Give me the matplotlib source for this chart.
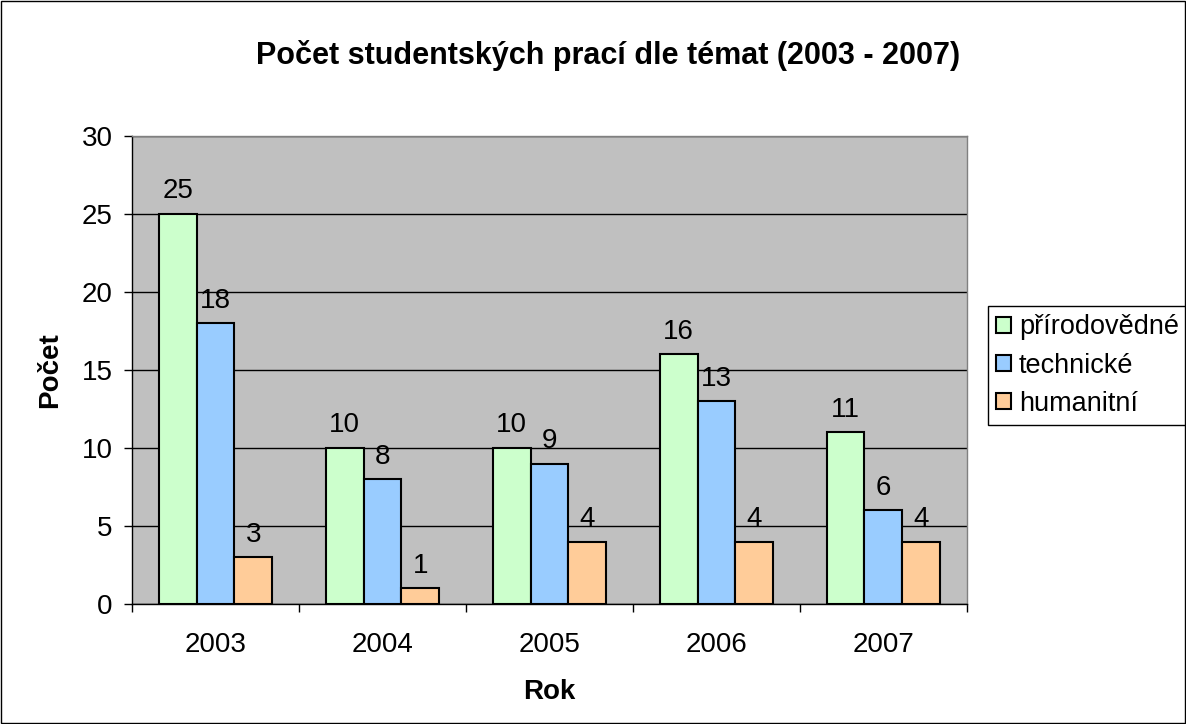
import matplotlib.pyplot as plt
import numpy as np
from matplotlib.patches import Rectangle

plt.rcParams['font.family'] = ['Liberation Sans', 'DejaVu Sans']

years = ['2003', '2004', '2005', '2006', '2007']
prirodovedne = [25, 10, 10, 16, 11]
technicke = [18, 8, 9, 13, 6]
humanitni = [3, 1, 4, 4, 4]
series_names = ['přírodovědné', 'technické', 'humanitní']
colors = ['#CCFFCC', '#99CCFF', '#FFCC99']

fig = plt.figure(figsize=(11.86, 7.24), dpi=100)
ax = fig.add_axes([0.1113, 0.1657, 0.704, 0.6464])
ax.set_facecolor('#C0C0C0')

x = np.arange(len(years))
w = 0.227
for i, (vals, name, c) in enumerate(zip([prirodovedne, technicke, humanitni], series_names, colors)):
    bars = ax.bar(x + (i - 1) * w, vals, w, color=c, edgecolor='black', linewidth=1.5,
                  label=name, zorder=3)
    ax.bar_label(bars, padding=7, fontsize=20, zorder=4)

ax.set_ylim(0, 30)
ax.set_xlim(-0.5, 4.5)
ax.set_yticks(range(0, 31, 5))
ax.yaxis.grid(True, color='black', linewidth=1, zorder=1)
ax.set_axisbelow(True)
ax.tick_params(axis='y', labelsize=20, length=6, width=1, direction='out', pad=8)
ax.set_xticks(x)
ax.set_xticklabels(years)
ax.tick_params(axis='x', which='major', labelsize=20, length=0, pad=20)
ax.set_xticks(np.arange(-0.5, 5, 1), minor=True)
ax.tick_params(axis='x', which='minor', length=6, width=1, direction='out')

for s in ['left', 'bottom']:
    ax.spines[s].set_color('black')
    ax.spines[s].set_linewidth(1)
for s in ['top', 'right']:
    ax.spines[s].set_color('#808080')
    ax.spines[s].set_linewidth(1)

ax.set_ylabel('Počet', fontsize=20, fontweight='bold', labelpad=13)
ax.set_xlabel('Rok', fontsize=20, fontweight='bold', labelpad=15)

fig.text(0.513, 0.923, 'Počet studentských prací dle témat (2003 - 2007)',
         fontsize=22, fontweight='bold', ha='center', va='center')

leg = ax.legend(loc='upper left', bbox_to_anchor=(0.833, 0.577), bbox_transform=fig.transFigure,
                fontsize=19.5, frameon=True, fancybox=False, edgecolor='black', framealpha=1,
                handlelength=0.55, handleheight=0.55, handletextpad=0.3, borderpad=0.3,
                labelspacing=0.45, borderaxespad=0)
leg.get_frame().set_linewidth(1)

fig.patches.append(Rectangle((0.0005, 0.0008), 0.999, 0.9984, transform=fig.transFigure,
                             fill=False, edgecolor='black', linewidth=1))

fig.savefig('out.png', dpi=100)
